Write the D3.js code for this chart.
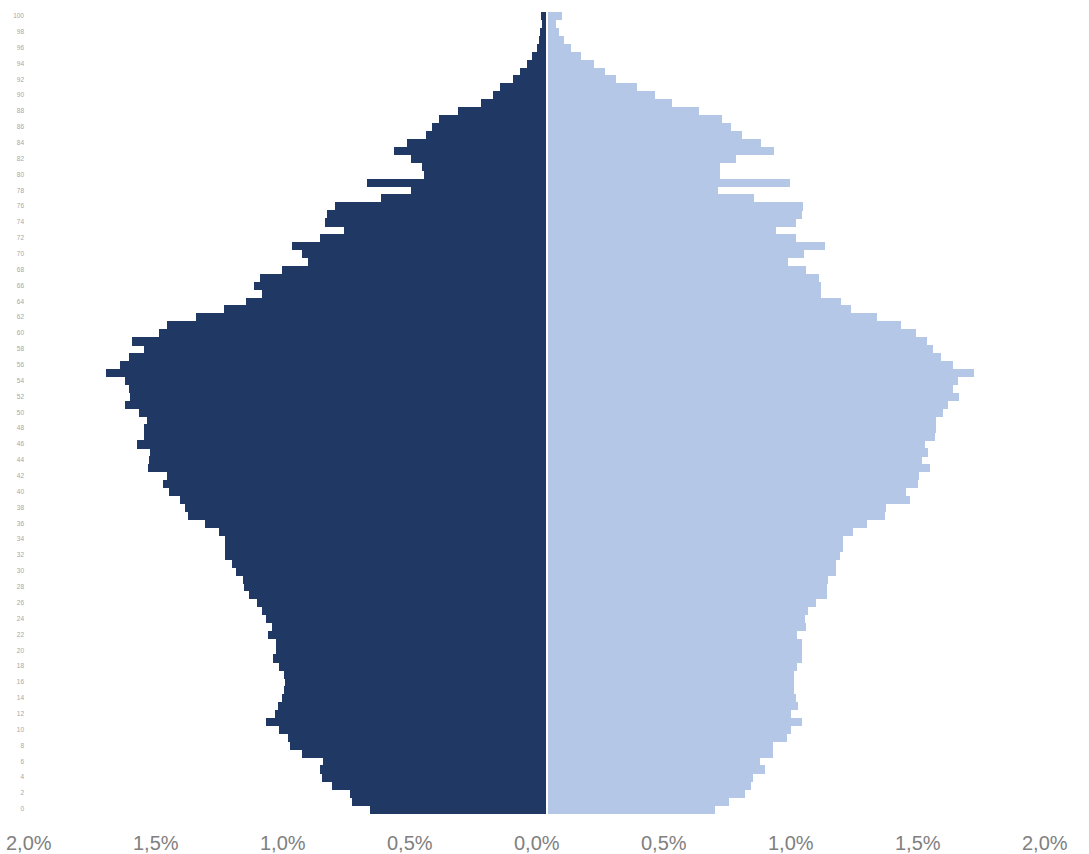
<!DOCTYPE html>
<html>
<head>
<meta charset="utf-8">
<script src="https://cdn.jsdelivr.net/npm/d3@7"></script>
<style>
  body { margin: 0; background: #fff; }
  svg { display: block; }
</style>
</head>
<body>
<div id="chart"></div>
<script>
// ages 0..100, shares of population in %
var ages = d3.range(0, 101);

var men = [
  0.695, 0.767, 0.774, 0.846, 0.885, 0.894, 0.879, 0.964, 1.010, 1.017,
  1.056, 1.104, 1.069, 1.060, 1.043, 1.033, 1.030, 1.036, 1.056, 1.078,
  1.065, 1.065, 1.099, 1.082, 1.104, 1.121, 1.141, 1.174, 1.191, 1.194,
  1.224, 1.239, 1.266, 1.266, 1.266, 1.292, 1.344, 1.413, 1.423, 1.443,
  1.489, 1.511, 1.495, 1.571, 1.567, 1.561, 1.613, 1.587, 1.587, 1.574,
  1.607, 1.659, 1.640, 1.646, 1.659, 1.735, 1.679, 1.644, 1.587, 1.633,
  1.528, 1.495, 1.381, 1.270, 1.184, 1.121, 1.154, 1.128, 1.043, 0.938,
  0.964, 1.003, 0.892, 0.797, 0.872, 0.865, 0.833, 0.653, 0.535, 0.708,
  0.485, 0.491, 0.535, 0.600, 0.550, 0.474, 0.452, 0.426, 0.350, 0.258,
  0.213, 0.183, 0.133, 0.107, 0.076, 0.058, 0.039, 0.032, 0.026, 0.017,
  0.023
];

var women = [
  0.661, 0.718, 0.780, 0.806, 0.812, 0.858, 0.839, 0.889, 0.889, 0.944,
  0.963, 1.003, 0.963, 0.989, 0.983, 0.972, 0.972, 0.972, 0.985, 1.003,
  1.003, 1.003, 0.985, 1.020, 1.016, 1.029, 1.062, 1.104, 1.104, 1.107,
  1.138, 1.138, 1.154, 1.167, 1.167, 1.206, 1.259, 1.331, 1.337, 1.429,
  1.413, 1.462, 1.466, 1.508, 1.479, 1.501, 1.488, 1.528, 1.534, 1.534,
  1.560, 1.580, 1.623, 1.600, 1.619, 1.681, 1.600, 1.554, 1.519, 1.497,
  1.453, 1.393, 1.300, 1.196, 1.160, 1.078, 1.078, 1.072, 1.019, 0.948,
  1.013, 1.094, 0.983, 0.902, 0.983, 1.003, 1.009, 0.816, 0.676, 0.957,
  0.681, 0.681, 0.747, 0.896, 0.845, 0.770, 0.726, 0.689, 0.600, 0.493,
  0.428, 0.357, 0.273, 0.231, 0.185, 0.134, 0.094, 0.068, 0.048, 0.035,
  0.059
];

var xTicks = [-2, -1.5, -1, -0.5, 0, 0.5, 1, 1.5, 2];
var yTickAges = ages.filter(function (a) { return a % 2 === 0; });

var width = 1089, height = 854;

var svg = d3.select('#chart')
  .append('svg')
  .attr('width', width)
  .attr('height', height);

var x = d3.scaleLinear()
  .domain([-2, 2])
  .range([38.75, 1054.75]);

var y = d3.scaleBand()
  .domain(ages.slice().reverse())
  .range([12, 813])
  .padding(0);

var gap = 0.75;

// men on the left
svg.append('g')
  .attr('shape-rendering', 'crispEdges')
  .selectAll('rect')
  .data(ages)
  .enter()
  .append('rect')
  .attr('x', function (d) { return x(-men[d]); })
  .attr('y', function (d) { return y(d); })
  .attr('width', function (d) { return x(0) - gap - x(-men[d]); })
  .attr('height', y.bandwidth() + 0.5)
  .style('fill', '#203864');

// women on the right
svg.append('g')
  .attr('shape-rendering', 'crispEdges')
  .selectAll('rect')
  .data(ages)
  .enter()
  .append('rect')
  .attr('x', x(0) + gap)
  .attr('y', function (d) { return y(d); })
  .attr('width', function (d) { return x(women[d]) - x(0) - gap; })
  .attr('height', y.bandwidth() + 0.5)
  .style('fill', '#b4c7e7');

// age labels
var yAxis = svg.append('g')
  .attr('transform', 'translate(24,0)')
  .call(d3.axisLeft(y).tickValues(yTickAges).tickSize(0).tickPadding(0));
yAxis.select('.domain').remove();
yAxis.selectAll('text')
  .style('font-family', 'Liberation Sans, Arial, sans-serif')
  .style('font-size', '6.5px')
  .style('fill', '#a6a6a6');

// percent labels
var fmt = function (d) { return Math.abs(d).toFixed(1).replace('.', ',') + '%'; };
var xAxis = svg.append('g')
  .attr('transform', 'translate(-10.5,836)')
  .call(d3.axisBottom(x).tickValues(xTicks).tickFormat(fmt).tickSize(0).tickPadding(0));
xAxis.select('.domain').remove();
xAxis.selectAll('text')
  .style('font-family', 'Liberation Sans, Arial, sans-serif')
  .style('font-size', '20px')
  .style('fill', '#808080');
</script>
</body>
</html>
